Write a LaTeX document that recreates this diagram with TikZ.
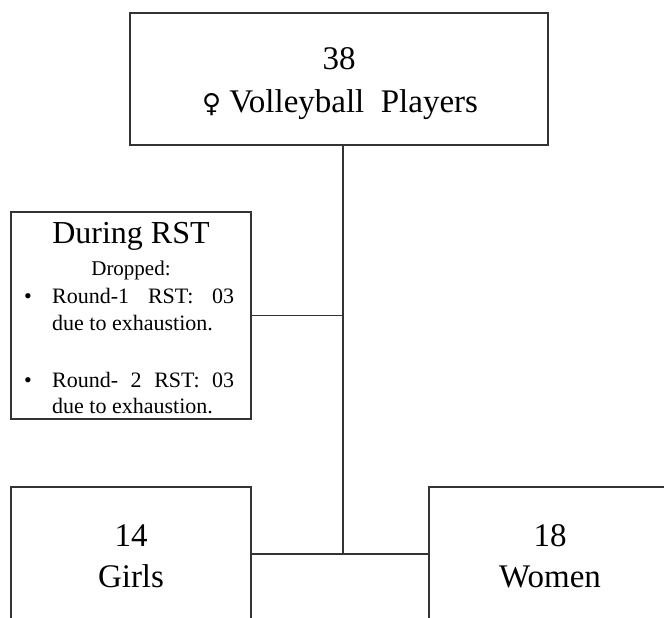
\documentclass[tikz,border=0pt]{standalone}
\usepackage{fontspec}
\setmainfont{Liberation Serif}
\newfontfamily\symfont{DejaVu Sans}
\begin{document}
\begin{tikzpicture}[x=1pt,y=-1pt,
  box/.style={draw=black!80, line width=1.3pt, inner sep=0pt},
  conn/.style={draw=black!80, line width=1.3pt},
  big/.style={font=\fontsize{33}{40}\selectfont, inner sep=0pt, anchor=base},
  mid/.style={font=\fontsize{32}{38}\selectfont, inner sep=0pt, anchor=base},
  small/.style={font=\fontsize{22}{26}\selectfont, inner sep=0pt, anchor=base west},
  tiny/.style={font=\fontsize{21}{25}\selectfont, inner sep=0pt, anchor=base}]
\clip (0,0) rectangle (664,618);
\fill[white] (0,0) rectangle (664,618);
% boxes
\node[box, minimum width=418pt, minimum height=132pt] (top) at (339,79) {};
\node[box, minimum width=240pt, minimum height=207pt] (drop) at (131,315.5) {};
\node[box, minimum width=240pt, minimum height=200pt] (girls) at (131,587) {};
\node[box, minimum width=244pt, minimum height=200pt] (women) at (551,587) {};
% texts
\node[big] (t38) at (339,70) {38};
\node[big] (tvp) at (340,112) {{\symfont\fontsize{26}{30}\selectfont ♀} Volleyball\ \ Players};
\node[mid] (tdur) at (131,243) {During RST};
\node[tiny] (tdrop) at (131,275) {Dropped:};
\node[small] (b1) at (24,303) {•};
\node[small] (r1) at (52,303) {\makebox[182pt][s]{Round-1 RST: 03}};
\node[small] (d1) at (52,330) {due to exhaustion.};
\node[small] (b2) at (24,387) {•};
\node[small] (r2) at (52,387) {\makebox[182pt][s]{Round- 2 RST: 03}};
\node[small] (d2) at (52,413) {due to exhaustion.};
\node[big] (t14) at (131,546) {14};
\node[big] (tg) at (131,587) {Girls};
\node[big] (t18) at (550,546) {18};
\node[big] (tw) at (550,587) {Women};
% connectors
\coordinate (J) at (343,554);
\draw[conn] (top.south -| J) -- (J);
\draw[conn] (girls.east |- J) -- (women.west |- J);
\draw[conn] (drop.east) -- (drop.east -| J);
\end{tikzpicture}
\end{document}
